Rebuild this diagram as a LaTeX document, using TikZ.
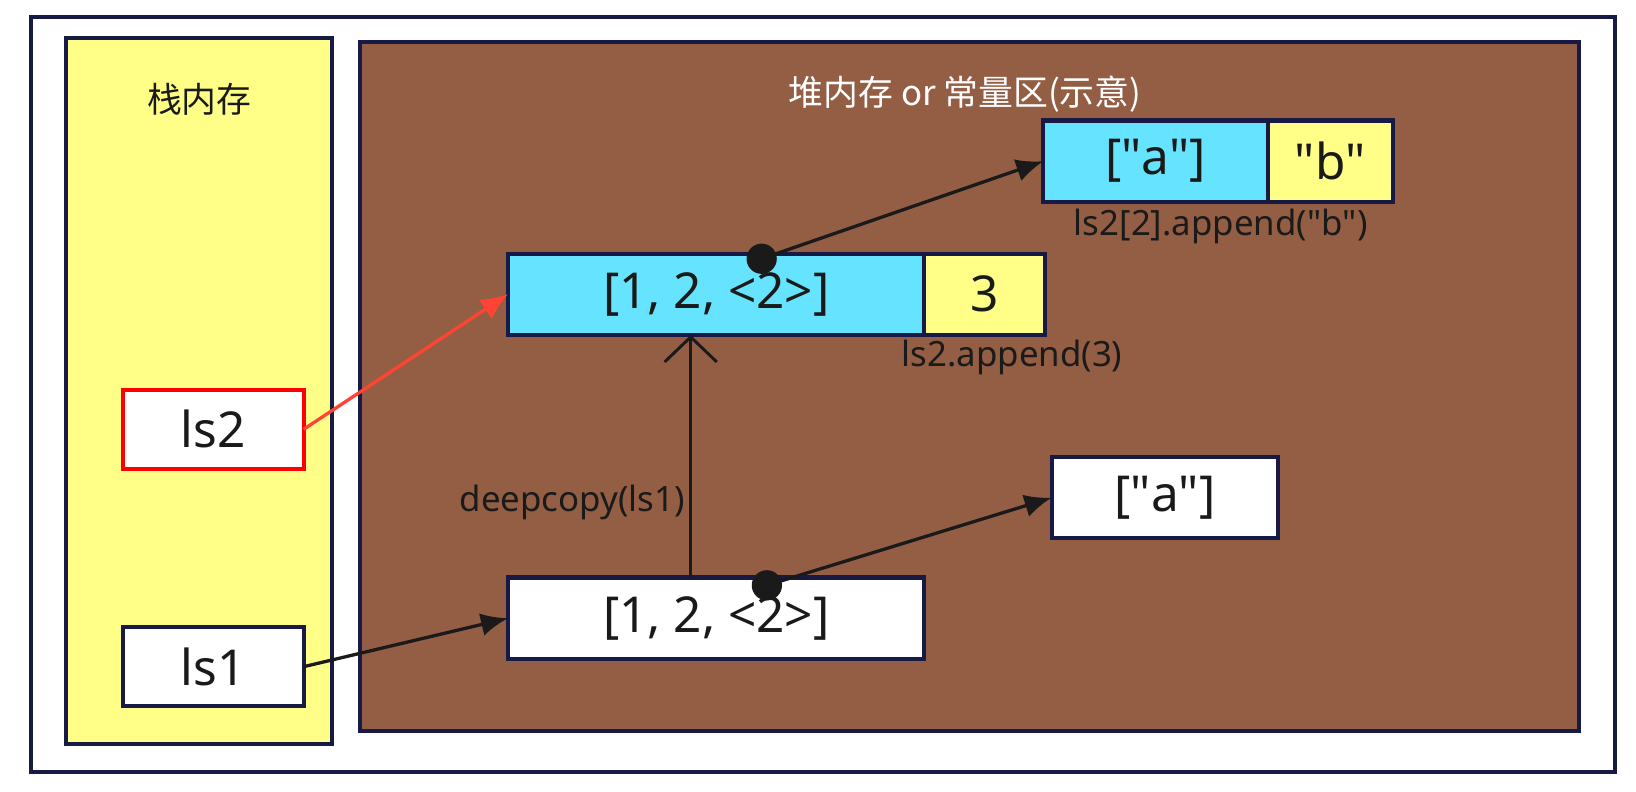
\documentclass[tikz,border=0pt]{standalone}
\usepackage{fontspec}
\setmainfont{Noto Sans}
\newfontfamily\cjk{Noto Sans CJK SC}
\usepackage{xcolor}
\usepackage{tikz}
\usetikzlibrary{arrows.meta, positioning}
\definecolor{navy}{HTML}{161A45}
\definecolor{stackyellow}{HTML}{FFFF88}
\definecolor{heapbrown}{HTML}{945E45}
\definecolor{listcyan}{HTML}{66E3FF}
\definecolor{refred}{HTML}{FF4433}
\definecolor{ink}{HTML}{1A1A1A}
\newcommand{\q}{\textquotedbl}
\tikzstyle{panel} = [rectangle, draw=navy, line width=1.1pt, inner sep=0pt, outer sep=0pt]
\tikzstyle{paneltitle} = [font=\fontsize{9.5}{12}\selectfont\cjk, text=ink, inner sep=0pt]
\tikzstyle{cell} = [rectangle, draw=navy, line width=1.1pt, minimum height=7.8mm, inner sep=0pt, outer sep=0pt, font=\fontsize{13.5}{16}\selectfont, text=ink]
\tikzstyle{var} = [cell, fill=white, minimum width=17.3mm, minimum height=7.6mm]
\tikzstyle{note} = [font=\fontsize{9.5}{12}\selectfont, text=ink, inner sep=0pt]
\tikzstyle{arrow} = [line width=0.9pt, draw=ink, -{Latex[length=2.6mm,width=2.2mm]}]
\tikzstyle{redarrow} = [arrow, draw=refred]
\tikzstyle{copyarrow} = [line width=0.8pt, draw=ink, -{Straight Barb[length=2.4mm,width=5mm]}]

\begin{document}
\begin{tikzpicture}[x=0.1mm, y=-0.1mm]
		\useasboundingbox (0,0) rectangle (1568,759);
		
		% Panels
		\node (frame) [panel, fill=white, minimum width=151.8mm, minimum height=72.4mm] at (789,378) {};
		\node (stack) [panel, fill=stackyellow, minimum width=25.5mm, minimum height=67.7mm] at (190.5,374.5) {};
		\node (heap) [panel, fill=heapbrown, minimum width=116.8mm, minimum height=66.1mm] at (929,370.5) {};
		\node (stacktitle) [paneltitle] at (191,95) {栈内存};
		\node (heaptitle) [paneltitle, text=white] at (925,90) {堆内存 or 常量区(示意)};
		
		% Nodes for stack variables
		\node (ls2) [var, draw=red] at (204.5,411.5) {ls2};
		\node (ls1) [var] at (204.5,639) {ls1};
		
		% Nodes for heap objects
		\node (midlist) [cell, fill=listcyan, minimum width=39.9mm] at (686.5,282) {[1, 2, <2>]};
		\node (midthree) [cell, fill=stackyellow, minimum width=11.6mm, right=0mm of midlist] {3};
		\node (toplist) [cell, fill=listcyan, minimum width=21.5mm] at (1107.5,154.5) {[\q a\q]};
		\node (topb) [cell, fill=stackyellow, minimum width=12mm, right=0mm of toplist] {\q b\q};
		\node (lowlist) [cell, fill=white, minimum width=39.9mm] at (686.5,592.5) {[1, 2, <2>]};
		\node (lowa) [cell, fill=white, minimum width=21.7mm] at (1116.5,477) {[\q a\q]};
		
		% Labels
		\node (appendb) [note] at (1170,217) {ls2[2].append(\q b\q)};
		\node (append3) [note] at (970,343) {ls2.append(3)};
		\node (copylbl) [note, anchor=east] at (657,482) {deepcopy(ls1)};
		
		% Reference points
		\coordinate (copyx) at (662,0);
		\coordinate (midref) at (730,248);
		\coordinate (lowref) at (735,561);
		
		% Arrows
		\draw [arrow] (ls1.east) -- (lowlist.west);
		\draw [redarrow] (ls2.east) -- (midlist.west);
		\draw [copyarrow] (lowlist.north -| copyx) -- (midlist.south -| copyx);
		\draw [arrow] (midref) -- (toplist.west);
		\draw [arrow] (lowref) -- (lowa.west);
		\fill [ink] (midref) circle (1.45mm);
		\fill [ink] (lowref) circle (1.45mm);
		
	\end{tikzpicture}
\end{document}
